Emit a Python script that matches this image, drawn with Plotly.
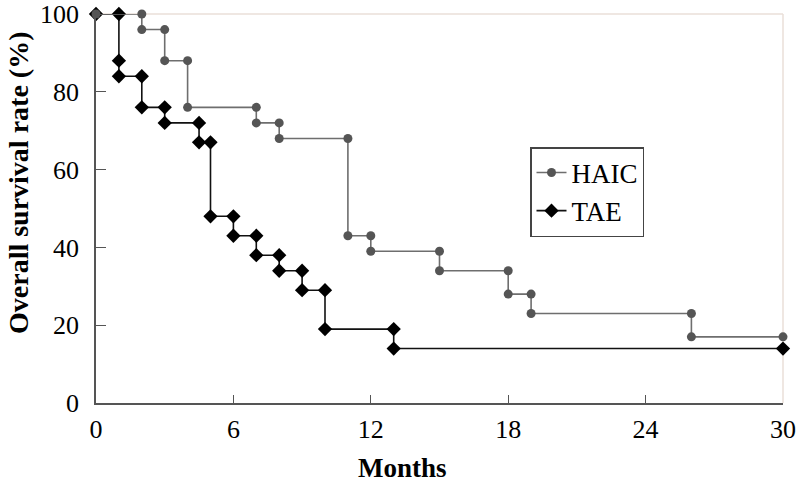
import plotly.graph_objects as go

# HAIC group (gray circles): Kaplan-Meier corner points
haic_months = [0, 2, 2, 3, 3, 4, 4, 7, 7, 8, 8, 11, 11, 12, 12, 15, 15, 18, 18, 19, 19, 26, 26, 30]
haic_rate = [100, 100, 96, 96, 88, 88, 76, 76, 72, 72, 68, 68, 43, 43, 39, 39, 34, 34, 28, 28, 23, 23, 17, 17]

# TAE group (black diamonds)
tae_months = [0, 1, 1, 1, 2, 2, 3, 3, 4.5, 4.5, 5, 5, 6, 6, 7, 7, 8, 8, 9, 9, 10, 10, 13, 13, 30]
tae_rate = [100, 100, 88, 84, 84, 76, 76, 72, 72, 67, 67, 48, 48, 43, 43, 38, 38, 34, 34, 29, 29, 19, 19, 14, 14]

x_ticks = [0, 6, 12, 18, 24, 30]
y_ticks = [0, 20, 40, 60, 80, 100]

FONT = "Liberation Serif"

W, H = 800, 482
L, R, T, B = 96, 17, 14, 79
pw, ph = W - L - R, H - T - B

fig = go.Figure()
fig.add_trace(go.Scatter(
    x=tae_months, y=tae_rate, name="TAE", mode="lines+markers", legendrank=2,
    line=dict(color="#111111", width=1.6),
    marker=dict(symbol="diamond", size=11, color="#000000"),
    cliponaxis=False,
))
fig.add_trace(go.Scatter(
    x=haic_months, y=haic_rate, name="HAIC", mode="lines+markers", legendrank=1,
    line=dict(color="#6e6e6e", width=1.6),
    marker=dict(symbol="circle", size=9, color="#555555"),
    cliponaxis=False,
))

# legend box in reference: x 530..653, y 147..233
leg_x = (530 - L) / pw
leg_y = (H - B - 147) / ph

fig.update_layout(
    width=W, height=H,
    margin=dict(l=L, r=R, t=T, b=B, autoexpand=False),
    paper_bgcolor="white", plot_bgcolor="white",
    font=dict(family=FONT, color="black", size=26),
    showlegend=True,
    legend=dict(
        x=leg_x, y=leg_y, xanchor="left", yanchor="top",
        bgcolor="white", bordercolor="#444444", borderwidth=1.5,
        font=dict(family=FONT, size=27, color="black"),
        itemwidth=30, tracegroupgap=4, traceorder="normal",
    ),
    xaxis=dict(
        range=[0, 30], tickvals=x_ticks, ticktext=[str(v) for v in x_ticks],
        ticks="inside", ticklen=8, tickcolor="#555555", tickwidth=1.3,
        showline=True, linecolor="#555555", linewidth=1.6,
        mirror=False, showgrid=False, zeroline=False, automargin=False,
        ticklabelstandoff=2, ticklabeloverflow="allow",
        tickfont=dict(family=FONT, size=26, color="black"),
    ),
    yaxis=dict(
        range=[0, 100], tickvals=y_ticks, ticktext=[str(v) for v in y_ticks],
        ticks="inside", ticklen=10, tickcolor="#555555", tickwidth=1.3,
        showline=True, linecolor="#555555", linewidth=1.6,
        mirror=False, showgrid=False, zeroline=False, automargin=False,
        ticklabelstandoff=10, ticklabeloverflow="allow",
        tickfont=dict(family=FONT, size=26, color="black"),
    ),
    annotations=[
        dict(text="<b>Months</b>", xref="paper", yref="paper",
             x=(402 - L) / pw, y=(H - B - 468) / ph,
             xanchor="center", yanchor="middle", showarrow=False,
             font=dict(family=FONT, size=27, color="black")),
        dict(text="<b>Overall survival rate (%)</b>", xref="paper", yref="paper",
             x=(19 - L) / pw, y=(H - B - 183) / ph, textangle=-90,
             xanchor="center", yanchor="middle", showarrow=False,
             font=dict(family=FONT, size=28, color="black")),
    ],
    shapes=[
        dict(type="line", xref="paper", yref="paper", x0=0, x1=1, y0=1, y1=1,
             line=dict(color="#eadfd9", width=1.5), layer="below"),
        dict(type="line", xref="paper", yref="paper", x0=1, x1=1, y0=0, y1=1,
             line=dict(color="#eadfd9", width=1.5), layer="below"),
    ],
)

# remove the browser's default 8px body margin so the figure fills the window
fig.write_html("out.html", config={"displayModeBar": False},
               post_script="document.body.style.margin='0';")
